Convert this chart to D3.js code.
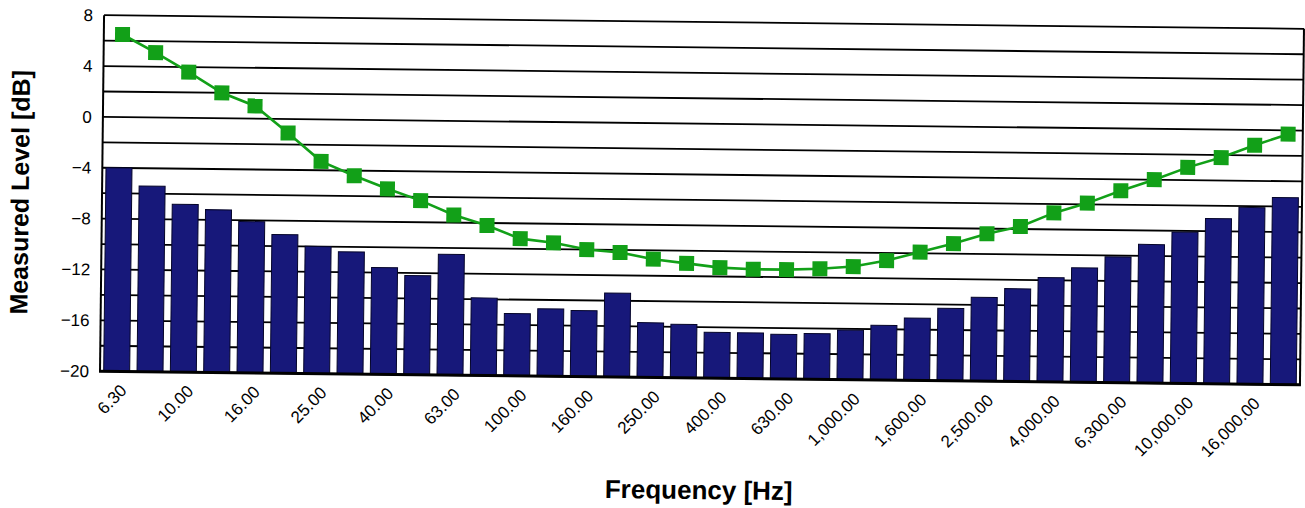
<!DOCTYPE html>
<html>
<head>
<meta charset="utf-8">
<script src="https://cdn.jsdelivr.net/npm/d3@7"></script>
<style>
  body { margin: 0; background: #fff; }
  text { font-family: Arial, 'Liberation Sans', sans-serif; }
</style>
</head>
<body>
<div id="main"></div>
<script>
// 1/3 octave band centre frequencies [Hz]
const frequencies = ['6.30', '8.00', '10.00', '12.50', '16.00', '20.00', '25.00', '31.50', '40.00', '50.00',
    '63.00', '80.00', '100.00', '125.00', '160.00', '200.00', '250.00', '315.00', '400.00', '500.00',
    '630.00', '800.00', '1,000.00', '1,250.00', '1,600.00', '2,000.00', '2,500.00', '3,150.00', '4,000.00', '5,000.00',
    '6,300.00', '8,000.00', '10,000.00', '12,500.00', '16,000.00', '20,000.00'];

// measured level per band (bars) [dB]
const measuredLevel = [-4.0, -5.4, -6.8, -7.2, -8.1, -9.1, -10.0, -10.4, -11.6, -12.2,
    -10.5, -13.9, -15.1, -14.7, -14.8, -13.4, -15.7, -15.8, -16.4, -16.4,
    -16.5, -16.4, -16.1, -15.7, -15.1, -14.3, -13.4, -12.7, -11.8, -11.0,
    -10.1, -9.1, -8.1, -7.0, -6.1, -5.3];

// reference curve (green line) [dB]
const referenceLevel = [6.5, 5.1, 3.6, 2.0, 1.0, -1.1, -3.3, -4.4, -5.4, -6.3,
    -7.4, -8.2, -9.2, -9.5, -10.0, -10.2, -10.7, -11.0, -11.3, -11.4,
    -11.4, -11.3, -11.1, -10.6, -9.9, -9.2, -8.4, -7.8, -6.7, -5.9,
    -4.9, -4.0, -3.0, -2.2, -1.2, -0.3];

const yTickLabels = [8, 4, 0, -4, -8, -12, -16, -20];
const yGridValues = d3.range(-20, 9, 2);

const width = 1305, height = 508;
const margin = { top: 22, bottom: 130, left: 102, right: 3 };
const markWidth = width - margin.left - margin.right;
const markHeight = height - margin.top - margin.bottom;

const svg = d3.select('#main').append('svg').attr('width', width).attr('height', height);

// the scanned original sits slightly tilted on the page
const root = svg.append('g')
    .attr('transform', `rotate(0.65, ${margin.left + markWidth / 2}, ${margin.top + markHeight / 2})`);

const xScale = d3.scaleBand().domain(frequencies).range([0, markWidth]).paddingInner(0.22).paddingOuter(0.11);
const xPoint = d => xScale(d) + xScale.bandwidth() / 2;
const yScale = d3.scaleLinear().domain([-20, 8]).range([markHeight, 0]);

const plot = root.append('g').attr('transform', `translate(${margin.left},${margin.top})`);

// gridlines every 2 dB
plot.append('g')
    .selectAll('line')
    .data(yGridValues)
    .enter()
        .append('line')
            .attr('x1', 0)
            .attr('x2', markWidth)
            .attr('y1', d => yScale(d))
            .attr('y2', d => yScale(d))
            .style('stroke', '#000')
            .style('stroke-width', 1.8);

// bars
plot.append('g')
    .selectAll('rect')
    .data(measuredLevel)
    .enter()
        .append('rect')
            .attr('x', (d, i) => xScale(frequencies[i]))
            .attr('y', d => yScale(d))
            .attr('width', xScale.bandwidth())
            .attr('height', d => yScale(-20) - yScale(d))
            .style('fill', '#17187a')
            .style('stroke', '#05052a')
            .style('stroke-width', 1);

// plot frame (left, right, bottom)
plot.append('line').attr('x1', 0).attr('x2', 0).attr('y1', 0).attr('y2', markHeight)
    .style('stroke', '#000').style('stroke-width', 2);
plot.append('line').attr('x1', markWidth).attr('x2', markWidth).attr('y1', 0).attr('y2', markHeight)
    .style('stroke', '#000').style('stroke-width', 2);
plot.append('line').attr('x1', -1).attr('x2', markWidth + 1).attr('y1', markHeight).attr('y2', markHeight)
    .style('stroke', '#000').style('stroke-width', 3);

// reference line with square markers
const line = d3.line()
    .x((d, i) => xPoint(frequencies[i]) + 2)
    .y(d => yScale(d));

plot.append('path')
    .datum(referenceLevel)
    .attr('d', line)
    .style('fill', 'none')
    .style('stroke', '#12a018')
    .style('stroke-width', 2.6);

const mk = 15;
plot.append('g')
    .selectAll('rect')
    .data(referenceLevel)
    .enter()
        .append('rect')
            .attr('x', (d, i) => xPoint(frequencies[i]) + 2 - mk / 2)
            .attr('y', d => yScale(d) - mk / 2)
            .attr('width', mk)
            .attr('height', mk)
            .style('fill', '#12a018');

// y axis labels
const yAxis = d3.axisLeft(yScale).tickValues(yTickLabels).tickSize(0).tickPadding(11).tickFormat(d3.format('d'));
plot.append('g')
    .call(yAxis)
    .call(g => g.select('.domain').remove())
    .selectAll('text')
        .style('font-size', '17px')
        .style('fill', '#000');

// x axis labels, every other band
const xAxis = d3.axisBottom(xScale)
    .tickValues(frequencies.filter((d, i) => i % 2 === 0))
    .tickSize(0);
plot.append('g')
    .attr('transform', `translate(0,${markHeight})`)
    .call(xAxis)
    .call(g => g.select('.domain').remove())
    .selectAll('text')
        .attr('y', 0)
        .attr('dy', 0)
        .attr('transform', 'translate(8,17) rotate(-46)')
        .style('text-anchor', 'end')
        .style('dominant-baseline', 'middle')
        .style('font-size', '17px')
        .style('fill', '#000');

// axis titles
root.append('text')
    .attr('x', 22)
    .attr('y', 200)
    .attr('transform', 'rotate(-90,22,200)')
    .style('font-size', '25px')
    .style('font-weight', 'bold')
    .style('text-anchor', 'middle')
    .style('dominant-baseline', 'middle')
    .text('Measured Level [dB]');

root.append('text')
    .attr('x', 702)
    .attr('y', 499)
    .style('font-size', '26px')
    .style('font-weight', 'bold')
    .style('text-anchor', 'middle')
    .text('Frequency [Hz]');
</script>
</body>
</html>
